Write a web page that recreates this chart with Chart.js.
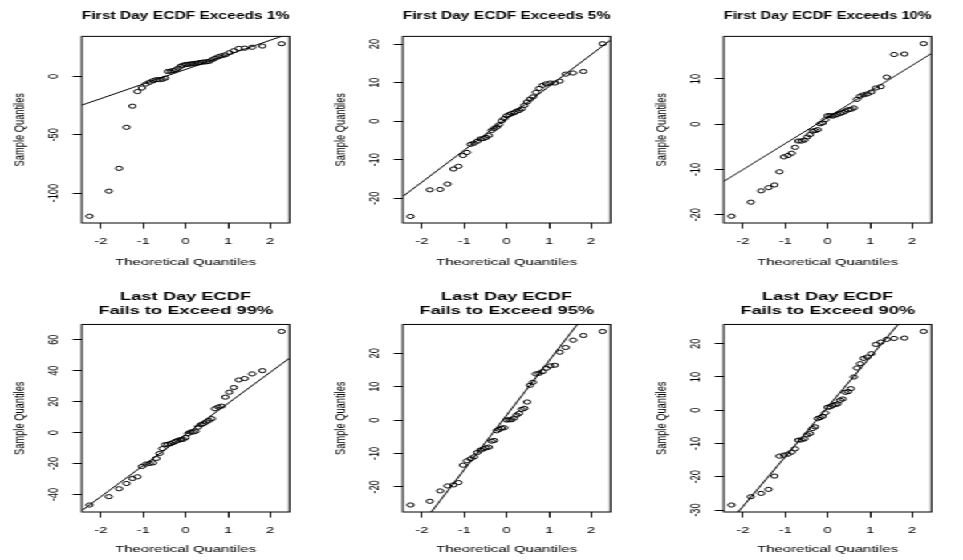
<!DOCTYPE html>
<html>
<head>
<meta charset="utf-8">
<script src="https://cdn.jsdelivr.net/npm/chart.js@4"></script>
<style>
html, body { margin: 0; padding: 0; background: #fff; overflow: hidden; }
/* the reference is stretched sideways, so the panels are drawn narrow and widened */
#sheet { position: absolute; left: 0; top: 0; width: 600px; height: 560px;
         transform: scaleX(1.605); transform-origin: 0 0; }
#sheet canvas { position: absolute; }
</style>
</head>
<body>
<div id="sheet"></div>
<script>
// theoretical normal quantiles, 43 points per panel
var theoretical = [-2.268, -1.813, -1.571, -1.395, -1.255, -1.137, -1.031, -0.937, -0.850, -0.769,
  -0.693, -0.620, -0.551, -0.485, -0.420, -0.357, -0.296, -0.236, -0.176, -0.117, -0.058, 0,
  0.058, 0.117, 0.176, 0.236, 0.296, 0.357, 0.420, 0.485, 0.551, 0.620, 0.693, 0.769, 0.850,
  0.937, 1.031, 1.137, 1.255, 1.395, 1.571, 1.813, 2.268];

var titles = [
  'First Day ECDF Exceeds 1%',
  'First Day ECDF Exceeds 5%',
  'First Day ECDF Exceeds 10%',
  ['Last Day ECDF', 'Fails to Exceed 99%'],
  ['Last Day ECDF', 'Fails to Exceed 95%'],
  ['Last Day ECDF', 'Fails to Exceed 90%']
];

// sample quantiles
var sample1 = [-119.8, -98.3, -78.8, -43.6, -25.5, -13.0, -9.9, -6.5, -5.0, -3.7, -2.8, -2.8, -2.5,
  -1.5, 4.2, 4.5, 5.0, 5.6, 7.0, 8.8, 9.6, 10.2, 10.4, 10.6, 11.0, 11.2, 11.5, 12.0, 12.3, 12.5,
  12.8, 14.2, 15.5, 16.8, 17.7, 18.5, 20.3, 22.0, 24.0, 24.2, 25.0, 26.0, 28.0];
var sample5 = [-24.7, -17.8, -17.7, -16.3, -12.4, -11.7, -8.9, -8.1, -6.0, -5.7, -5.2, -4.6, -4.5,
  -4.2, -3.7, -2.4, -1.9, -1.5, -0.9, 0.1, 0.7, 1.4, 1.7, 2.0, 2.2, 2.6, 2.8, 3.2, 4.1, 5.0, 5.7,
  6.3, 7.5, 8.5, 9.3, 9.7, 9.9, 9.9, 10.4, 12.2, 12.5, 12.9, 20.1];
var sample10 = [-20.3, -17.2, -14.7, -14.0, -13.4, -10.5, -7.2, -6.9, -6.4, -5.1, -3.7, -3.7, -3.5,
  -2.8, -2.3, -1.5, -1.4, -1.2, 0.1, 0.3, 1.0, 1.9, 1.9, 1.8, 2.0, 2.2, 2.4, 2.6, 2.9, 3.2, 3.3,
  3.6, 5.5, 6.2, 6.5, 6.7, 7.1, 8.0, 8.3, 10.4, 15.4, 15.5, 17.8];
var sample99 = [-46.7, -41.3, -36.2, -32.8, -29.6, -28.5, -21.8, -20.3, -19.9, -19.5, -16.7, -13.5,
  -10.3, -7.7, -7.5, -7.1, -6.4, -5.6, -4.9, -4.5, -4.3, -3.2, -0.6, 0.4, 0.4, 0.9, 3.6, 5.1, 5.8,
  6.9, 7.9, 9.0, 15.4, 16.5, 17.1, 22.9, 26.1, 29.1, 34.0, 34.9, 37.9, 40.0, 65.3];
var sample95 = [-25.4, -24.3, -21.2, -19.7, -19.4, -18.7, -13.5, -12.2, -11.6, -11.0, -9.7, -9.0,
  -8.6, -8.3, -8.1, -6.3, -6.1, -3.2, -2.8, -2.4, -2.3, 0.0, 0.1, 0.1, 0.6, 1.5, 2.0, 3.2, 3.5,
  5.4, 10.4, 11.3, 13.8, 14.0, 14.5, 15.5, 16.2, 16.4, 20.3, 21.7, 23.9, 25.3, 26.5];
var sample90 = [-28.5, -26.0, -25.0, -23.8, -19.8, -13.8, -13.5, -13.2, -12.6, -11.6, -9.0, -8.9,
  -8.6, -7.4, -7.0, -5.5, -5.0, -2.5, -2.2, -1.8, -0.8, 0.9, 1.0, 1.5, 1.7, 1.9, 3.0, 3.4, 5.4,
  5.6, 6.5, 10.0, 12.7, 14.0, 15.6, 16.0, 17.0, 19.8, 20.5, 21.3, 21.6, 21.7, 23.7];
var samples = [sample1, sample5, sample10, sample99, sample95, sample90];

// reference line of each panel: [intercept, slope]
var qqLines = [[6.0, 12.5], [0.75, 8.27], [1.5, 5.76], [-1.15, 20.06], [1.45, 16.27], [0.96, 14.94]];

var xLimits = [-2.45, 2.45];
var xTickValues = [-2, -1, 0, 1, 2];
var yLimits = [[-125.6, 34.3], [-26.4, 22.0], [-21.8, 19.4], [-51.2, 69.8], [-27.5, 28.6], [-30.6, 25.8]];
var yTickValues = [[-100, -50, 0], [-20, -10, 0, 10, 20], [-20, -10, 0, 10],
  [-40, -20, 0, 20, 40, 60], [-20, -10, 0, 10, 20], [-30, -20, -10, 0, 10, 20]];

var FAMILY = "'Liberation Sans', Arial, sans-serif";
var SMALL = 9.3;
var TICK = 5.6;
Chart.defaults.font.family = FAMILY;
Chart.defaults.color = '#000';

var measure = document.createElement('canvas').getContext('2d');
measure.font = SMALL + 'px ' + FAMILY;

var boxPlugin = {
  id: 'plotBox',
  afterDraw: function (chart) {
    var a = chart.chartArea, ctx = chart.ctx;
    ctx.save();
    ctx.strokeStyle = '#000';
    ctx.lineWidth = 1;
    ctx.strokeRect(a.left, a.top, a.right - a.left, a.bottom - a.top);
    ctx.restore();
  }
};

var rows = [
  { titlePad: { top: 8.8, bottom: 13.9 }, xHeight: 57, xTitlePad: 12.4 },
  { titlePad: { top: 10.2, bottom: 6.9 }, xHeight: 48, xTitlePad: 5 }
];

var sheet = document.getElementById('sheet');

for (var i = 0; i < 6; i++) {
  var row = rows[Math.floor(i / 3)];
  var canvas = document.createElement('canvas');
  canvas.width = 200;
  canvas.height = 280;
  canvas.style.left = (i % 3) * 200 + 'px';
  canvas.style.top = Math.floor(i / 3) * 280 + 'px';
  sheet.appendChild(canvas);

  var points = theoretical.map(function (x, k) { return { x: x, y: samples[i][k] }; });
  var ab = qqLines[i];
  var linePts = xLimits.map(function (x) { return { x: x, y: ab[0] + ab[1] * x }; });

  var widest = 0;
  yTickValues[i].forEach(function (v) { widest = Math.max(widest, measure.measureText(String(v)).width); });

  (function (yTicks, yLim, row, yPad) {
    new Chart(canvas, {
      type: 'scatter',
      data: {
        datasets: [
          { data: points, showLine: false, pointRadius: 2.1, pointBorderWidth: 1,
            pointBorderColor: '#000', pointBackgroundColor: 'rgba(0,0,0,0)', pointHoverRadius: 2.1 },
          { data: linePts, showLine: true, pointRadius: 0, borderColor: '#000', borderWidth: 1, fill: false }
        ]
      },
      options: {
        responsive: false,
        animation: false,
        events: [],
        layout: { padding: { left: 0, right: 19.7, top: 0, bottom: 0 } },
        plugins: {
          legend: { display: false },
          tooltip: { enabled: false },
          title: {
            display: true, text: titles[i], fullSize: false, color: '#000',
            font: { size: 11.4, weight: 'bold', lineHeight: 1.2 },
            padding: row.titlePad
          }
        },
        scales: {
          x: {
            type: 'linear', min: xLimits[0], max: xLimits[1],
            afterBuildTicks: function (s) { s.ticks = xTickValues.map(function (v) { return { value: v }; }); },
            afterFit: function (s) { s.height = row.xHeight; },
            border: { display: false },
            grid: { drawOnChartArea: false, drawTicks: true, tickLength: TICK, color: '#000', tickColor: '#000' },
            ticks: { font: { size: SMALL }, padding: 6.8, maxRotation: 0, color: '#000' },
            title: { display: true, text: 'Theoretical Quantiles', font: { size: SMALL },
                     padding: { top: 0, bottom: row.xTitlePad }, color: '#000' }
          },
          y: {
            type: 'linear', min: yLim[0], max: yLim[1],
            afterBuildTicks: function (s) { s.ticks = yTicks.map(function (v) { return { value: v }; }); },
            afterFit: function (s) { s.width = 51; },
            border: { display: false },
            grid: { drawOnChartArea: false, drawTicks: true, tickLength: TICK, color: '#000', tickColor: '#000' },
            ticks: { font: { size: SMALL }, minRotation: 90, maxRotation: 90, crossAlign: 'center',
                     padding: yPad, color: '#000' },
            title: { display: true, text: 'Sample Quantiles', font: { size: SMALL },
                     padding: { top: 6.5, bottom: 0 }, color: '#000' }
          }
        }
      },
      plugins: [boxPlugin]
    });
  })(yTickValues[i], yLimits[i], row, 12.4 - widest / 2);
}
</script>
</body>
</html>
